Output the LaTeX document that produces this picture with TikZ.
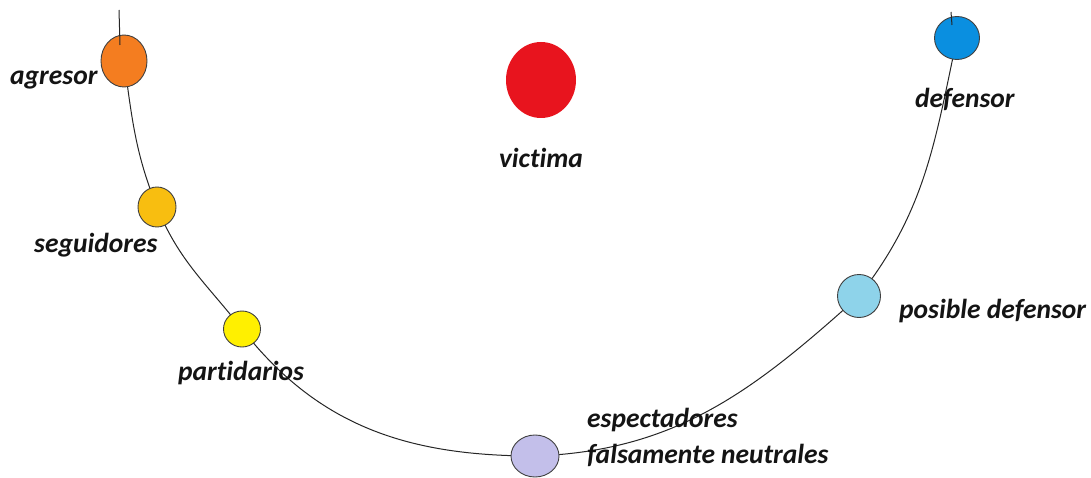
\documentclass[tikz,border=0pt]{standalone}
\usepackage{fontspec}
\setmainfont{Carlito}[Ligatures={NoCommon,NoRare}]
\usetikzlibrary{shapes.geometric}
\definecolor{cagr}{HTML}{F47D20}
\definecolor{cvic}{HTML}{E8141E}
\definecolor{cdef}{HTML}{0A8FE0}
\definecolor{cseg}{HTML}{F8BE10}
\definecolor{cpar}{HTML}{FFF000}
\definecolor{cpos}{HTML}{8ED3EA}
\definecolor{cesp}{HTML}{C3BFEA}
\definecolor{ctxt}{HTML}{141414}
\tikzset{
  role/.style={ellipse, draw=black!75, line width=0.9pt, inner sep=0pt},
  lbl/.style={font=\fontsize{27.5}{32}\selectfont\bfseries\itshape, text=ctxt, inner sep=0pt, anchor=base west},
  arc/.style={draw=black!85, line width=1pt}
}
\begin{document}
\begin{tikzpicture}[x=1pt,y=1pt]
\useasboundingbox (0,0) rectangle (1091,477);
\coordinate (agrtop) at (119,467);
\coordinate (agrin) at (120,432);
\coordinate (deftop) at (951,465);
\coordinate (defin) at (952,452);
\path (124,416) coordinate (pA) (157,270) coordinate (pS) (242,148) coordinate (pP)
      (535,21) coordinate (pE) (859,181) coordinate (pD) (957,439) coordinate (pF);
\draw[arc] (pA) to[out=-82,in=112] (pS) to[out=-68,in=128] (pP) to[out=-52,in=180] (pE)
           to[out=2,in=222] (pD) to[out=52,in=-102] (pF);
\node[role, fill=cagr, minimum width=46pt, minimum height=52pt] (agresor) at (pA) {};
\node[ellipse, fill=cvic, inner sep=0pt, minimum width=70pt, minimum height=76pt] (victima) at (541,397) {};
\node[role, fill=cdef, minimum width=45pt, minimum height=43pt] (defensor) at (pF) {};
\node[role, fill=cseg, minimum width=38pt, minimum height=40pt] (seguidores) at (pS) {};
\node[role, fill=cpar, minimum width=37pt, minimum height=36pt] (partidarios) at (pP) {};
\node[role, fill=cpos, minimum width=43pt, minimum height=43pt] (posible) at (pD) {};
\node[role, fill=cesp, minimum width=48pt, minimum height=42pt] (espect) at (pE) {};
\draw[arc] (agrtop) -- (agrin);
\draw[arc] (deftop) -- (defin);
\node[lbl] (tagr) at (10,392) {agresor};
\node[lbl, anchor=base] (tvic) at (541,309) {victima};
\node[lbl] (tdef) at (915,369) {defensor};
\node[lbl] (tseg) at (34,225) {seguidores};
\node[lbl] (tpar) at (178,97) {partidarios};
\node[lbl] (tpos) at (899,159) {posible defensor};
\node[lbl] (tesp1) at (587,50) {espectadores};
\node[lbl] (tesp2) at (587,14) {falsamente neutrales};
\end{tikzpicture}
\end{document}
